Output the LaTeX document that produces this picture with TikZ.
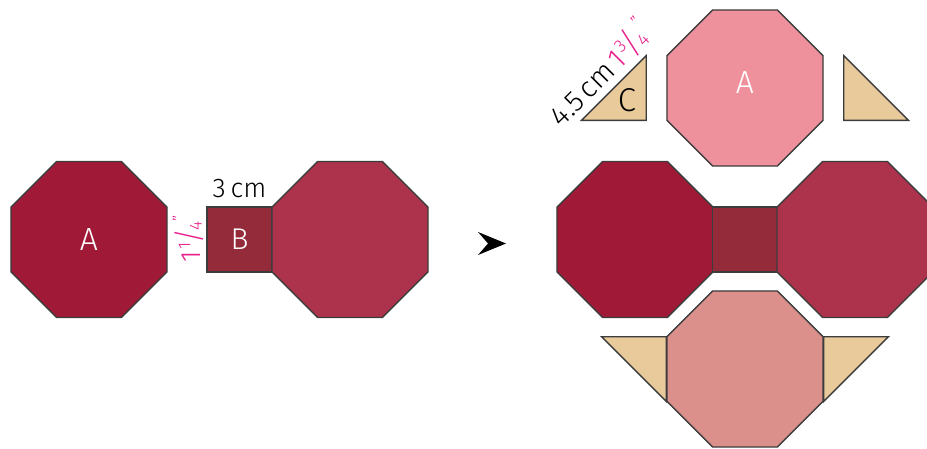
\documentclass[tikz,border=0pt]{standalone}
\usepackage{fontspec}
\setmainfont{Fira Sans Light}
\usetikzlibrary{shapes.geometric,calc}
\definecolor{wineA}{HTML}{A01A37}
\definecolor{wineB}{HTML}{942B3A}
\definecolor{wineC}{HTML}{AD334C}
\definecolor{rose}{HTML}{EF919D}
\definecolor{salmon}{HTML}{DC908B}
\definecolor{sand}{HTML}{E9CA9A}
\definecolor{edge}{HTML}{3C3C3C}
\definecolor{inch}{HTML}{E91E8C}
\newcommand{\qfrac}[3]{#1\kern.05em\raisebox{.36em}{\scalebox{.62}{#2}}\kern-.06em\scalebox{1}[1.15]{/}\kern-.06em\raisebox{-.04em}{\scalebox{.62}{#3}}\raisebox{.55em}{\scalebox{.6}{"}}}

\begin{document}
\begin{tikzpicture}[x=1pt,y=-1pt]
\tikzstyle{oct}=[regular polygon,regular polygon sides=8,minimum size=168.9pt,inner sep=0pt,draw=edge,line width=1.4pt,text=white,font=\fontsize{32}{32}\selectfont]
\tikzstyle{sq}=[rectangle,minimum size=65pt,inner sep=0pt,draw=edge,line width=1.4pt,text=white,font=\fontsize{30}{30}\selectfont]
\tikzstyle{tri}=[fill=sand,draw=edge,line width=1.4pt,line join=miter]
\tikzstyle{lbl}=[inner sep=0pt,font=\fontsize{27}{27}\selectfont]
\useasboundingbox (0,0) rectangle (927,448);

% before
\node (1) at (89,239.5) [oct,fill=wineA]{A};
\node (2) at (239.5,239.5) [sq,fill=wineB]{B};
\node (3) at (350,239.5) [oct,fill=wineC]{};
\node (9) at (239.5,197) [lbl,anchor=base]{3\kern.18em cm};
\node (10) at (200.5,239) [lbl,anchor=base,rotate=90,text=inch,font=\fontsize{28}{28}\selectfont]{\qfrac{1}{1}{4}};

% arrow
\coordinate (11) at (492,243.5);
\fill[black] (11) ++(-14,-11.5) -- ++(28,11.5) -- ++(-28,11.5) -- ++(10,-11.5) -- cycle;

% after
\node (4) at (745,88) [oct,fill=rose,label={[text=white,font=\fontsize{32}{32}\selectfont,yshift=5.5pt]center:A}]{};
\node (5) at (635,239.5) [oct,fill=wineA]{};
\node (6) at (745,239.5) [sq,fill=wineB]{};
\node (7) at (855,239.5) [oct,fill=wineC]{};
\node (8) at (745,369) [oct,fill=salmon]{};

\draw[tri] ($(4.west)+(-20,-32.3)$) coordinate (12) -- ($(4.west)+(-20,32.3)$) coordinate (13) -- ($(4.west)+(-84.6,32.3)$) coordinate (14) -- cycle;
\draw[tri] ($(4.east)+(20,-32.3)$) -- ($(4.east)+(20,32.3)$) -- ($(4.east)+(84.6,32.3)$) -- cycle;
\draw[tri] ($(8.west)+(0,-32.3)$) -- ($(8.west)+(0,32.3)$) -- ($(8.west)+(-64.6,-32.3)$) -- cycle;
\draw[tri] ($(8.east)+(0,-32.3)$) -- ($(8.east)+(0,32.3)$) -- ($(8.east)+(64.6,-32.3)$) -- cycle;

\node (16) at (627,100.5) [lbl,font=\fontsize{33}{33}\selectfont]{C};
\node (17) at ($($(12)!.5!(14)$)+(-6,-6)$) [lbl,anchor=base,rotate=45,font=\fontsize{29}{29}\selectfont]{4.5\kern.15em cm\kern.12em\textcolor{inch}{\qfrac{1}{3}{4}}};
\end{tikzpicture}
\end{document}
